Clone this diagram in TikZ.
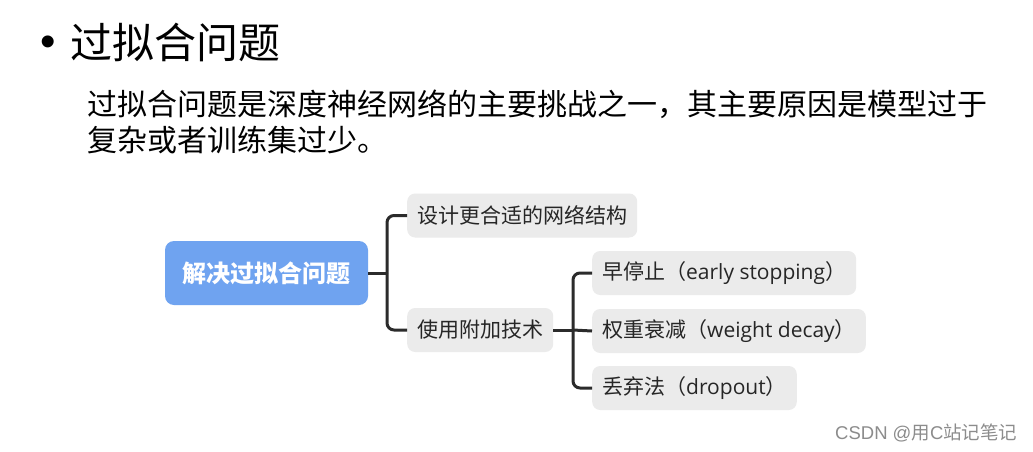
\documentclass[tikz,border=0pt]{standalone}
\usepackage{fontspec}
\setmainfont{Noto Sans CJK SC}
\newfontfamily\latf{Open Sans}
\newfontfamily\wmlat{Liberation Sans}
\definecolor{rootblue}{HTML}{6FA3F0}
\definecolor{leafgray}{HTML}{EBEBEB}
\definecolor{linegray}{HTML}{2B2B2B}
\begin{document}
\begin{tikzpicture}[x=1pt,y=-1pt,
  leaf/.style={fill=leafgray, rounded corners=8pt, anchor=west, minimum height=44pt,
    inner xsep=10pt, font=\fontsize{21}{24}\selectfont, text=black!85},
  rootbox/.style={fill=rootblue, rounded corners=9pt, minimum width=203pt, minimum height=64pt,
    font=\fontsize{24}{28}\selectfont\bfseries, text=white},
  conn/.style={draw=linegray, line width=3pt, rounded corners=7pt},
  plain/.style={anchor=west, inner sep=0pt}]
\useasboundingbox (0,0) rectangle (1033,452);
\fill[white] (0,0) rectangle (1033,452);
% heading
\node[plain, font=\wmlat\fontsize{44}{50}\selectfont] (bullet) at (40,46) {•};
\node[plain, font=\fontsize{42}{50}\selectfont] (title) at (70,42) {过拟合问题};
\node[plain, font=\fontsize{30}{36}\selectfont] (p1) at (87,104) {过拟合问题是深度神经网络的主要挑战之一，其主要原因是模型过于};
\node[plain, font=\fontsize{30}{36}\selectfont] (p2) at (87,140) {复杂或者训练集过少。};
% mind map
\node[rootbox] (root) at (266.5,273) {解决过拟合问题};
\node[leaf] (c1) at (407,215.5) {设计更合适的网络结构};
\node[leaf] (c2) at (407,330) {使用附加技术};
\node[leaf] (g1) at (592,273) {早停止（{\latf early stopping}）};
\node[leaf] (g2) at (592,331) {权重衰减（{\latf weight decay}）};
\node[leaf] (g3) at (592,388) {丢弃法（{\latf dropout}）};
\coordinate (b1) at (387,273);
\coordinate (b2) at (573,330);
\draw[conn] (root.east) -- (b1);
\draw[conn] (b1) |- (c1.west);
\draw[conn] (b1) |- (c2.west);
\draw[conn] (c2.east) -- (b2);
\draw[conn] (b2) |- (g1.west);
\draw[conn] (b2) -- (g2.west);
\draw[conn] (b2) |- (g3.west);
% watermark
\node[plain, font=\fontsize{18.5}{22}\selectfont, text=black!45] (wm) at (835,433) {{\wmlat CSDN @}用{\wmlat C}站记笔记};
\end{tikzpicture}
\end{document}
